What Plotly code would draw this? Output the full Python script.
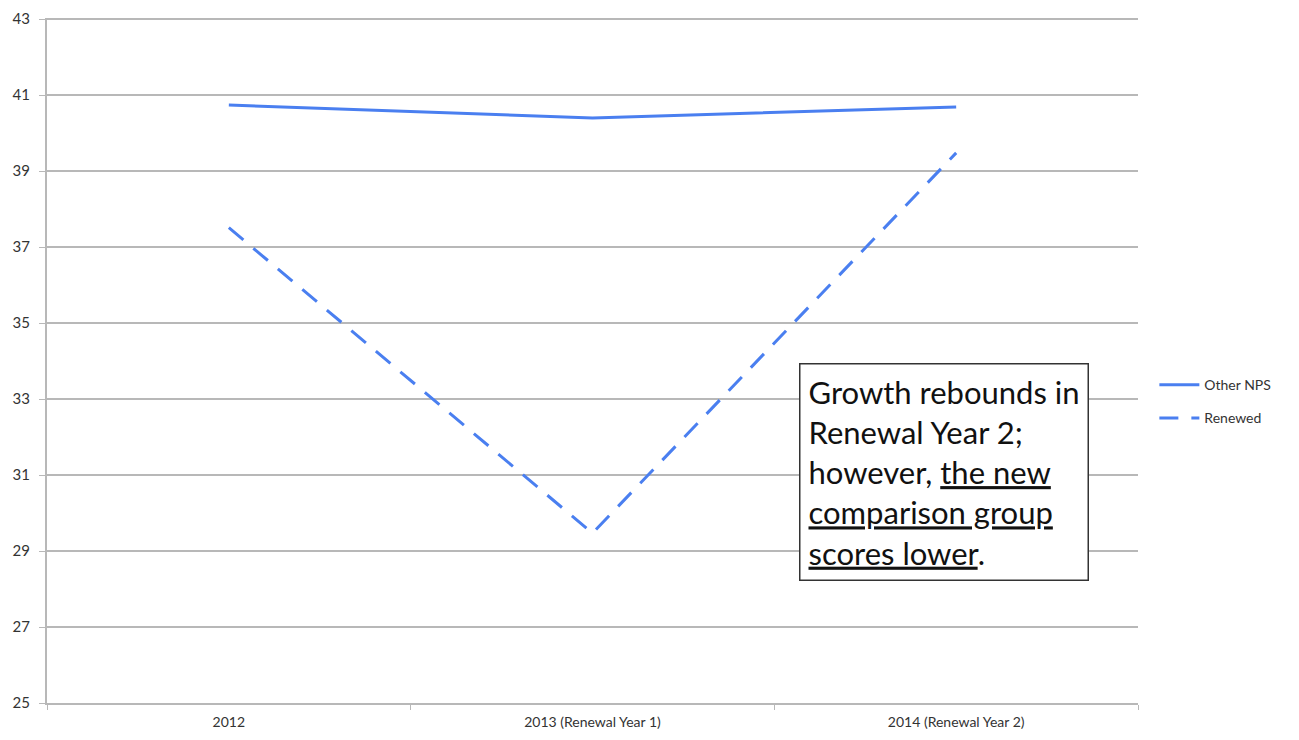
import plotly.graph_objects as go

categories = ["2012", "2013 (Renewal Year 1)", "2014 (Renewal Year 2)"]
other_nps = [40.74, 40.40, 40.69]
renewed = [37.51, 29.47, 39.48]
y_ticks = [25, 27, 29, 31, 33, 35, 37, 39, 41, 43]

blue = "#4a7ff0"
grid = "#b8b8b8"

fig = go.Figure()
fig.add_trace(go.Scatter(x=categories, y=other_nps, mode="lines", name="Other NPS",
                         legendgroup="a", line=dict(width=3, color=blue)))
fig.add_trace(go.Scatter(x=categories, y=renewed, mode="lines", name="Renewed",
                         legendgroup="b", line=dict(width=3, color=blue, dash="19px,13px")))

fig.add_annotation(
    x=1.569, y=33.96, xref="x", yref="y", xanchor="left", yanchor="top",
    text="Growth rebounds in<br>Renewal Year 2;<br>however, <u>the new</u><br>"
         "<u>comparison group</u><br><u>scores lower</u>.",
    showarrow=False, align="left",
    font=dict(family="Lato, Open Sans, sans-serif", size=31, color="#111111"),
    bordercolor="#333333", borderwidth=1.5, borderpad=8, bgcolor="white",
)

fig.update_xaxes(
    range=[-0.5, 2.5], showgrid=False, showline=True, linecolor=grid, linewidth=2,
    tickson="boundaries", ticks="outside", ticklen=5, tickcolor=grid, zeroline=False,
    ticklabelstandoff=5, automargin=False,
    tickfont=dict(family="Lato, sans-serif", size=14, color="#333333"),
)
fig.update_yaxes(
    range=[25, 43.03], tickvals=y_ticks, showgrid=True, gridcolor=grid, gridwidth=2,
    showline=True, linecolor=grid, linewidth=2, ticks="outside", ticklen=6,
    tickcolor=grid, zeroline=False, ticklabelstandoff=6, automargin=False,
    tickfont=dict(family="Lato, sans-serif", size=15, color="#333333"),
)
fig.update_layout(
    width=1283, height=724, plot_bgcolor="white", paper_bgcolor="white",
    margin=dict(l=39, r=153, t=10, b=29),
    legend=dict(x=1.015, y=0.44, xanchor="left", yanchor="middle",
                font=dict(family="Lato, sans-serif", size=14, color="#333333"),
                tracegroupgap=12, itemwidth=40),
    showlegend=True,
)
fig.write_html("out.html")
